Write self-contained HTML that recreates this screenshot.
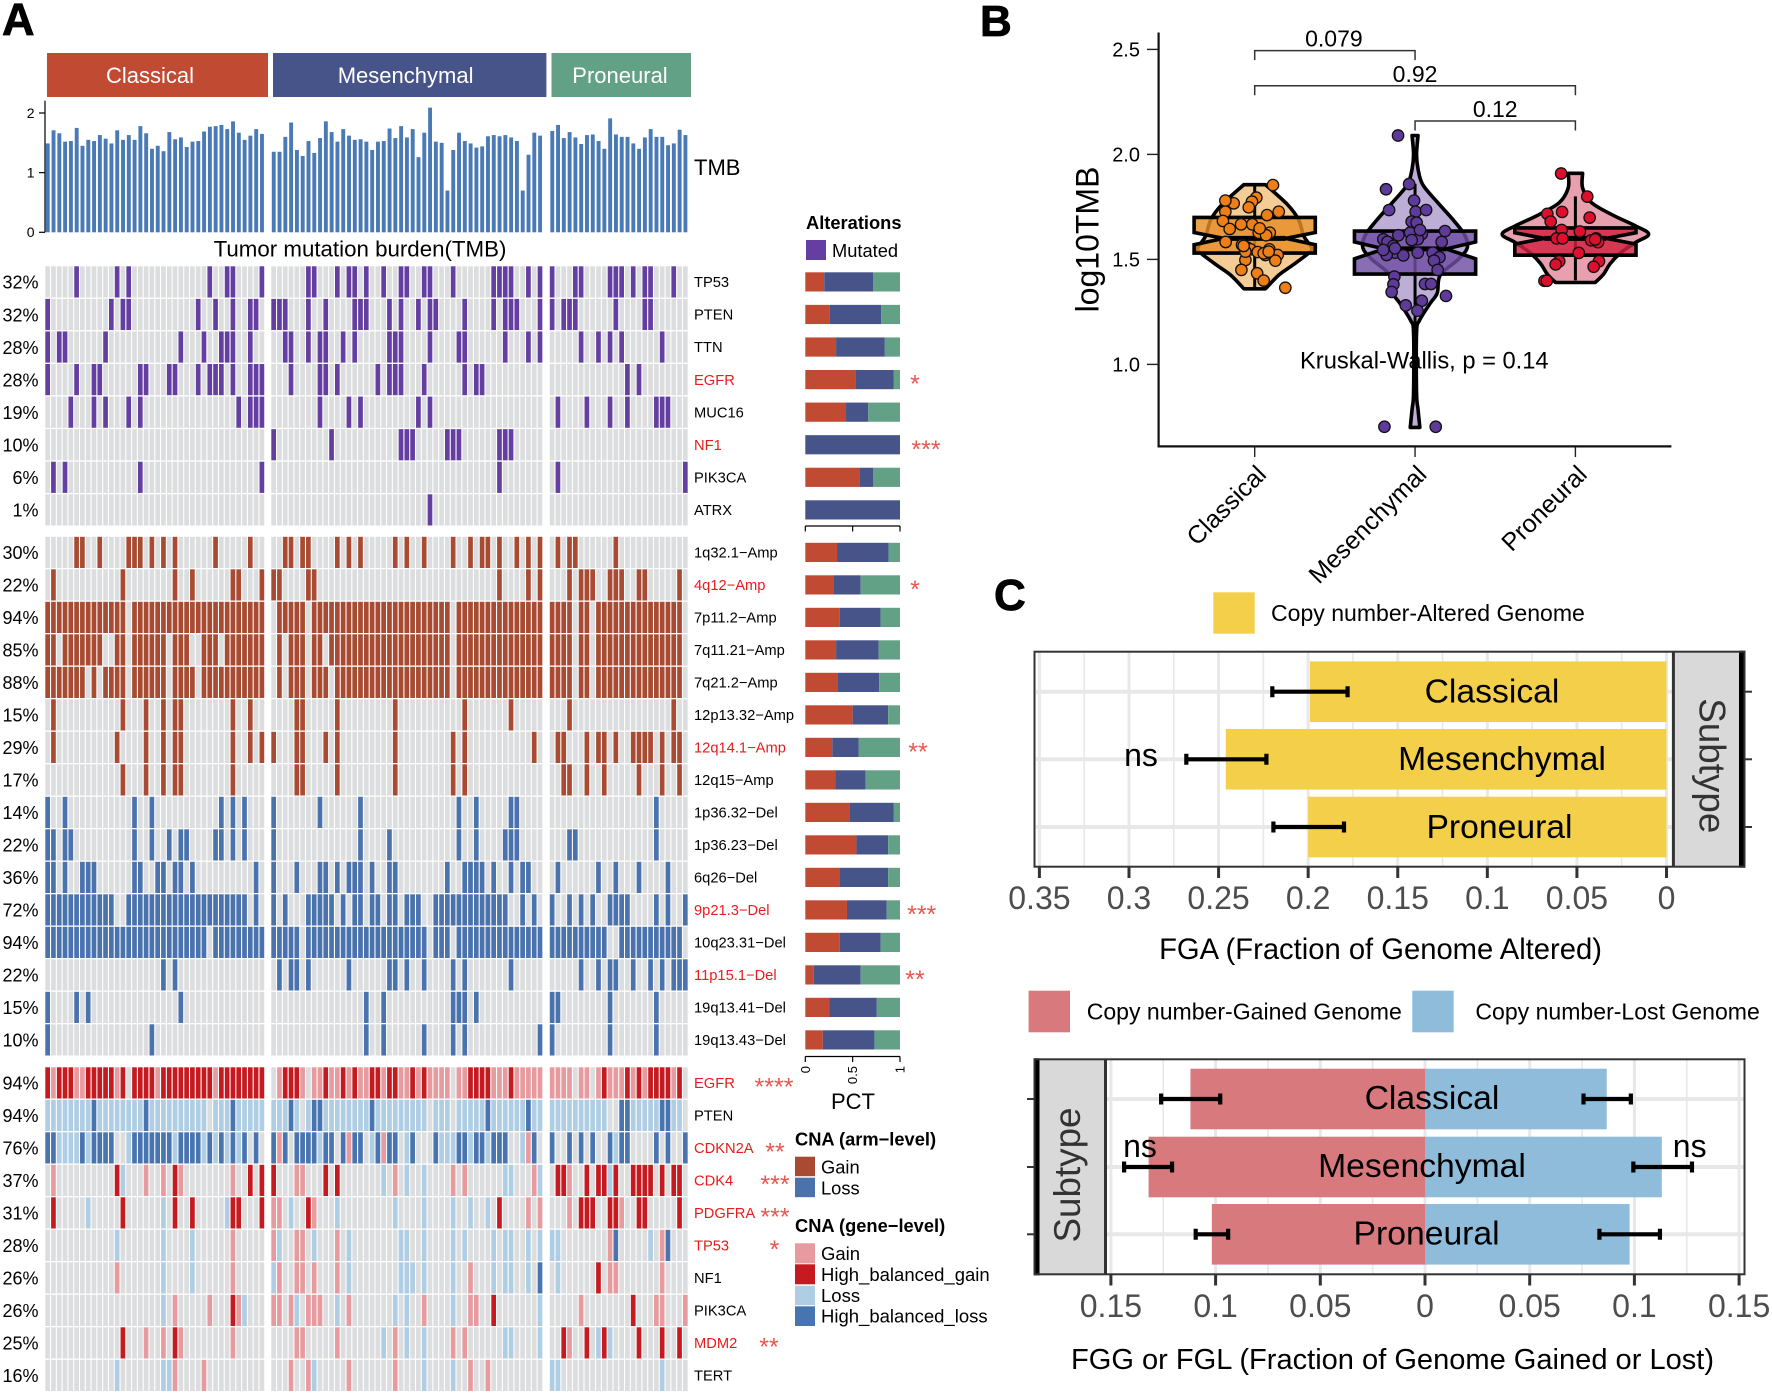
<!DOCTYPE html>
<html lang="en">
<head>
<meta charset="utf-8">
<title>Tumor mutation burden and copy number figure</title>
<style>
html,body{margin:0;padding:0;background:#fff;}
svg{display:block;font-family:"Liberation Sans",sans-serif;}
</style>
</head>
<body>
<svg id="figure" xmlns="http://www.w3.org/2000/svg" width="1772" height="1394" viewBox="0 0 1772 1394">
<rect x="0" y="0" width="1772" height="1394" fill="#fff"/>

<text x="2" y="35" font-size="45" font-weight="bold" stroke="#000" stroke-width="0.8">A</text>
<text x="980" y="36" font-size="44" font-weight="bold" stroke="#000" stroke-width="0.8">B</text>
<text x="994" y="610" font-size="44" font-weight="bold" stroke="#000" stroke-width="0.8">C</text>

<rect x="47" y="53" width="221" height="44" fill="#c04a32"/>
<rect x="273" y="53" width="273.4" height="44" fill="#47548a"/>
<rect x="551.5" y="53" width="139.5" height="44" fill="#62a185"/>
<text x="150" y="83" font-size="22" fill="#fff" text-anchor="middle">Classical</text>
<text x="405.6" y="83" font-size="22" fill="#fff" text-anchor="middle">Mesenchymal</text>
<text x="620" y="83" font-size="22" fill="#fff" text-anchor="middle">Proneural</text>

<g id="tmb"></g>
<text x="694" y="175" font-size="22">TMB</text>
<text x="360" y="256.5" font-size="22.3" text-anchor="middle">Tumor mutation burden(TMB)</text>

<g id="heatmap"></g>
<g id="stacks"></g>

<text x="806" y="229" font-size="18.3" font-weight="bold">Alterations</text>
<rect x="806" y="240" width="20" height="20" fill="#643ea0"/>
<text x="832" y="257" font-size="18.3">Mutated</text>

<g font-size="25" fill="#e8584f" text-anchor="middle">
<text x="915" y="392.6">*</text>
<text x="926" y="457.8">***</text>
<text x="915" y="597.9">*</text>
<text x="918" y="760.4">**</text>
<text x="921.7" y="922.9">***</text>
<text x="915" y="987.9">**</text>
<text x="774" y="1095.4">****</text>
<text x="775" y="1160.4">**</text>
<text x="775" y="1192.9">***</text>
<text x="775" y="1225.4">***</text>
<text x="774.5" y="1257.9">*</text>
<text x="769" y="1355.4">**</text>
</g>

<text x="853" y="1109" font-size="22" text-anchor="middle">PCT</text>
<text x="795" y="1145.5" font-size="18.3" font-weight="bold">CNA (arm−level)</text>
<rect x="795" y="1156.7" width="20" height="19.5" fill="#a84b32"/>
<rect x="795" y="1177.7" width="20" height="19.5" fill="#4a72ad"/>
<text x="821" y="1173.5" font-size="18.3">Gain</text>
<text x="821" y="1194.5" font-size="18.3">Loss</text>
<text x="795" y="1232" font-size="18.3" font-weight="bold">CNA (gene−level)</text>
<rect x="795" y="1243.3" width="20" height="20" fill="#e79b9f"/>
<rect x="795" y="1264.3" width="20" height="20" fill="#c41a20"/>
<rect x="795" y="1285.7" width="20" height="19.5" fill="#afcde3"/>
<rect x="795" y="1306.3" width="20" height="19.7" fill="#4874b0"/>
<text x="821" y="1260.2" font-size="18.5">Gain</text>
<text x="821" y="1281" font-size="18.5">High_balanced_gain</text>
<text x="821" y="1302" font-size="18.5">Loss</text>
<text x="821" y="1322.7" font-size="18.5">High_balanced_loss</text>

<g id="violin"></g>
<text transform="translate(1098.5,239.5) rotate(-90)" font-size="32" text-anchor="middle">log10TMB</text>
<text x="1300" y="368.5" font-size="23.7">Kruskal-Wallis, p = 0.14</text>

<rect x="1213.3" y="592.3" width="41.4" height="41.4" fill="#f4d04a"/>
<text x="1271" y="621" font-size="23.05">Copy number-Altered Genome</text>
<g id="fga"></g>
<text x="1380.5" y="959" font-size="29.2" text-anchor="middle">FGA (Fraction of Genome Altered)</text>

<rect x="1028.6" y="990.7" width="41.4" height="41.6" fill="#d8797d"/>
<text x="1086.7" y="1019.7" font-size="23.05">Copy number-Gained Genome</text>
<rect x="1412.3" y="990.7" width="41.4" height="41.6" fill="#8fbcdb"/>
<text x="1475.4" y="1019.7" font-size="23.05">Copy number-Lost Genome</text>
<g id="fgg"></g>
<text x="1392.5" y="1369" font-size="29.05" text-anchor="middle">FGG or FGL (Fraction of Genome Gained or Lost)</text>
</svg>

<script>
/* ---------- TMB bars ---------- */
const tmbClassical = [1.49,1.71,1.66,1.52,1.53,1.75,1.45,1.55,1.53,1.63,1.57,1.49,1.71,1.55,1.63,1.55,1.78,1.66,1.40,1.45,1.36,1.68,1.56,1.59,1.43,1.52,1.53,1.69,1.77,1.78,1.80,1.73,1.86,1.67,1.55,1.62,1.73,1.65];
const tmbMesenchymal = [1.35,1.35,1.60,1.84,1.38,1.28,1.53,1.33,1.58,1.86,1.68,1.52,1.73,1.62,1.55,1.56,1.52,1.38,1.52,1.53,1.74,1.58,1.78,1.59,1.73,1.26,1.67,2.09,1.52,1.50,0.70,1.38,1.67,1.53,1.49,1.42,1.44,1.61,1.63,1.61,1.63,1.59,1.53,0.70,1.30,1.67,1.62];
const tmbProneural = [1.70,1.80,1.58,1.68,1.59,1.48,1.63,1.64,1.53,1.40,1.91,1.64,1.60,1.60,1.49,1.40,1.59,1.73,1.60,1.60,1.46,1.49,1.72,1.63];
const tmbTicks = [0,1,2];

/* ---------- Oncoprint rows: each row lists [classical, mesenchymal, proneural] cells ---------- */
const mutationGenes = ['TP53','PTEN','TTN','EGFR','MUC16','NF1','PIK3CA','ATRX'];
const mutationPercents = [32,32,28,28,19,10,6,1];
const mutationRed = ['EGFR','NF1'];
const mutationCells = [
 [[5,12,14,28,31,32,37],[6,7,11,13,14,16,19,22,23,26,27,31,38,39,40,41,44,46],[0,4,5,10,11,12,14,16,17,21]],
 [[0,11,13,14,26,29,32,35,36],[0,1,2,6,9,14,15,16,20,22,25,27,28,33,38,40,41,42,46],[0,2,3,4,11,16,17]],
 [[0,2,3,10,23,27,30,31,32,35],[2,3,6,8,9,12,14,20,21,22,27,32,33,40,44,46],[5,8,10,12,19]],
 [[0,5,8,9,16,17,21,22,26,28,29,30,32,35,36,37],[3,8,9,11,18,20,21,22,26,33,35,36],[13,15]],
 [[4,8,10,14,16,33,35,36,37],[8,13,15,25,27],[1,6,10,13,18,19,20]],
 [[],[0,10,22,23,24,30,31,32,39,40,41],[]],
 [[1,3,16,37],[39],[1,23]],
 [[],[27],[]]
];
const armRegions = ['1q32.1−Amp','4q12−Amp','7p11.2−Amp','7q11.21−Amp','7q21.2−Amp','12p13.32−Amp','12q14.1−Amp','12q15−Amp','1p36.32−Del','1p36.23−Del','6q26−Del','9p21.3−Del','10q23.31−Del','11p15.1−Del','19q13.41−Del','19q13.43−Del'];
const armPercents = [30,22,94,85,88,15,29,17,14,22,36,72,94,22,15,10];
const armRed = ['4q12−Amp','12q14.1−Amp','9p21.3−Del','11p15.1−Del'];
const armCells = [
 [[5,6,9,14,15,16,18,20,22,29,35],[2,3,5,6,11,13,15,21,23,26,31,34,36,37,39,42,44,46],[1,3,4,11]],
 [[1,13,22,25,32,33,37],[0,1,6,7,39,44,46],[3,5,6,7,10,11,12,15,16,22]],
 [{off:[14]},{off:[0,6,31]},{off:[4,7,23]}],
 [{off:[2,10,11,14,21,25,26,30]},{off:[0,2,6,9,31]},{off:[4,7,23]}],
 [{off:[7,9,14,21,26]},{off:[0,2,6,10,31]},{off:[4,7,23]}],
 [[1,13,17,20,22,23,32,35],[4,5,11,21,33,41],[3,21]],
 [[1,12,17,20,22,23,32,35,37],[0,4,5,9,11,21,31,33,45],[1,2,6,8,9,11,14,15,16,17,19,21,22]],
 [[13,17,20,22,23,32],[4,5,11,21,31,33],[2,3,6,9,15,19,22]],
 [[0,3,15,18,30,32,34],[0,8,15,32,35,41,42],[18]],
 [[0,1,3,4,15,18,21,23,24,29,30,32,34],[0,15,20,32,35,40,41,42],[3,4,18]],
 [[0,1,3,6,7,8,15,16,19,20,22,23,25,36],[0,4,8,9,11,13,14,15,17,20,21,30,33,34,35,36,38,41,43,44],[1,8,11,15,20]],
 [{off:[12,13,35,37]},[0,2,6,7,8,9,10,12,14,15,17,18,20,21,23,24,25,28,29,30,31,32,33,34,35,36,37,38,39,40,43,45],[0,3,5,7,10,11,12,13,18,20,23]],
 [{off:[28]},{off:[5,27,31]},{off:[10,11,23]}],
 [[20,22],[1,3,4,6,13,20,21,23,26,31,33,41],[5,8,10,11,14,17,19,21,22,23]],
 [[0,5,7,23],[16,19,31,32,33,35],[0,1,10,18]],
 [[0,18],[16,19,26,31,33,46],[0,10,18]]
];
const geneNames = ['EGFR','PTEN','CDKN2A','CDK4','PDGFRA','TP53','NF1','PIK3CA','MDM2','TERT'];
const genePercents = [94,94,76,37,31,28,26,26,25,16];
const geneRed = ['EGFR','CDKN2A','CDK4','PDGFRA','TP53','MDM2'];
const geneCells = [
 ['HgHHHggHHHHHgH.HHHHgHHHHHHHHHgHHHHHHHH','.gHHHg.ggHggHgHggHHgHHggHgHgggg.ggHHHHgggHggggg','gggg.gg.gHgggHgHgHHHHgH.'],
 ['llllllllBllllllllBllllllllll.lllBlllll','lllBl.lBBllllllllBlllllllll.lll.lllllBllllllBll','llllllllll..BBlllllBBll.'],
 ['BBllllBlBBBB..lBBBBBBBlBBBBlBlBlBlB.B.','BgB.BBBBlBB.BgBB.lBgBB.lB...BlllBBlBBlBBB..lgB.','B..B.B.B..BlBB....B.B..B'],
 [{g:[1,17,20,23,32],H:[12,22,35,37],l:[13]},{g:[4,5,21,31,33,45],H:[0,9,11],l:[19,23,26,40,41,46]},{g:[3],H:[1,2,6,8,9,11,14,15,16,17,19,21,22],l:[10]}],
 [{H:[1,13,22,25,32,33,37],l:[7,20,31]},{g:[0,1,7,44,46],H:[6,39],l:[3,11,21,26,31,34,37]},{g:[3,12],H:[5,6,7,10,11,15,16,22]}],
 [{g:[32],l:[12,20,25]},{g:[0,4,5,11],l:[1,7,13,22,23,26,31,33,38,40,41,44,46]},{g:[10,19],l:[0,1,17],B:[11,20]}],
 [{g:[12,32],l:[20,25]},{g:[1,4,5,7,11,34],l:[0,13,22,23,24,26,31,38,40,41,44],B:[46]},{g:[10,11,19],H:[8],l:[1]}],
 [{g:[22,28,33],H:[32],l:[20,34]},{g:[0,1,3,6,7,8,13,26,34,35],H:[38],l:[4,11,21,23,31,46]},{g:[5,18,19,23],H:[14]}],
 [{g:[17,20,23,32],H:[13,22]},{g:[4,5,11,21,31,33],l:[19,23,26,40,41,46]},{g:[3],H:[2,6,9,15,19,22],l:[8,10]}],
 [{g:[22,27],l:[12,20,21]},{g:[3,6,13,21,34,37],l:[7,26,31]},{l:[0,1,19]}]
];

/* ---------- Share of each subtype per row (mutation rows then arm rows) ---------- */
const shareClassical = [.20,.26,.325,.535,.43,0,.57,0,.335,.295,.365,.325,.345,.50,.285,.315,.465,.54,.36,.44,.365,.09,.255,.185];
const shareMesenchymal = [.515,.54,.515,.40,.235,1,.145,1,.545,.29,.43,.45,.435,.375,.28,.32,.47,.335,.515,.42,.43,.495,.50,.545];
const shareProneural = [.285,.20,.16,.065,.335,0,.285,0,.12,.415,.205,.225,.22,.125,.435,.365,.065,.125,.125,.14,.205,.415,.245,.27];
const shareTicks = [0,0.5,1];

/* ---------- Violin chart ---------- */
const subtypes = ['Classical','Mesenchymal','Proneural'];
const log10Ticks = ['1.0','1.5','2.0','2.5'];
const densityLevels = [
 [1.856,1.76,1.69,1.61,1.555,1.53,1.47,1.425,1.36],
 [2.09,2.0,1.93,1.855,1.77,1.69,1.615,1.555,1.5,1.425,1.34,1.29,1.21,1.15,.865,.785,.7],
 [1.91,1.84,1.77,1.71,1.66,1.62,1.58,1.53,1.48,1.43,1.39]
];
const densityValues = [
 [.18,.55,.73,.82,.95,.9,.62,.4,.18],
 [.05,.025,.05,.13,.38,.63,.83,.87,.72,.42,.37,.25,.075,.025,.025,.05,.08],
 [.12,.12,.27,.63,1.0,1.22,1.0,.75,.58,.47,.33]
];
const boxQ3 = [1.70,1.635,1.65];
const boxQ1 = [1.53,1.43,1.52];
const boxMedian = [1.60,1.55,1.60];
const notchHigh = [1.628,1.583,1.627];
const notchLow = [1.57,1.503,1.573];
const whiskerHigh = [1.856,1.86,1.80];
const whiskerLow = [1.36,1.15,1.40];
const classicalTmb = [1.854,1.767,1.780,1.794,1.775,1.748,1.727,1.727,1.711,1.683,1.667,1.667,1.645,1.627,1.627,1.615,1.583,1.569,1.557,1.548,1.535,1.548,1.521,1.521,1.494,1.497,1.450,1.434,1.399,1.365,1.537,1.532,1.648,1.564,1.529,1.537];
const classicalJitter = [.114,-.131,-.183,.010,-.017,-.037,-.183,.150,.077,-.198,-.085,-.015,-.156,.025,.094,.071,-.181,-.079,-.048,-.027,.019,.091,.067,.143,.129,-.058,-.083,.015,.056,.191,-.058,.077,.031,-.069,.056,.087];
const mesenchymalTmb = [2.09,1.834,1.859,1.780,1.735,1.727,1.735,1.680,1.675,1.635,1.615,1.627,1.621,1.596,1.596,1.584,1.583,1.564,1.592,1.532,1.532,1.519,1.532,1.532,1.510,1.494,1.450,1.418,1.381,1.345,1.383,1.383,1.326,1.281,1.303,1.256,.703,.703,1.640,1.521,1.545,1.553];
const mesenchymalJitter = [-.106,-.181,-.037,-.006,-.162,.004,.069,-.021,.010,.187,-.104,-.031,.042,.017,-.198,-.172,.166,-.135,-.021,-.181,-.125,-.073,.017,.110,.152,.118,.141,-.129,-.135,-.146,.062,.100,.193,-.058,.042,.015,-.191,.129,.031,-.177,-.198,-.125];
const proneuralTmb = [1.909,1.799,1.717,1.726,1.699,1.680,1.640,1.633,1.600,1.600,1.591,1.600,1.582,1.531,1.491,1.476,1.491,1.465,1.398,1.398,1.595];
const proneuralJitter = [-.089,.074,-.175,-.083,.089,-.154,-.086,.028,-.117,-.080,.098,.129,.141,.021,-.101,-.123,.147,.114,-.193,-.178,.123];

/* ---------- Genome fraction charts ---------- */
const fgaValues = [.199,.246,.20];
const fgaErrLow = [.178,.2233,.18];
const fgaErrHigh = [.22,.268,.2194];
const fgaTicks = ['0.35','0.3','0.25','0.2','0.15','0.1','0.05','0'];
const fggValues = [.112,.132,.1018];
const fglValues = [.0868,.1131,.0977];
const fggErrLow = [.0978,.1208,.094];
const fggErrHigh = [.126,.1437,.1095];
const fglErrLow = [.0757,.0995,.0833];
const fglErrHigh = [.0983,.1275,.1122];
const fggTicks = ['0.15','0.1','0.05','0'];
const fglTicks = ['0','0.05','0.1','0.15'];

/* ---------- Helpers and axis functions ---------- */
const NS = 'http://www.w3.org/2000/svg';
function mk(tag, attrs, parent){
  const e = document.createElementNS(NS, tag);
  for (const k in attrs) e.setAttribute(k, attrs[k]);
  parent.appendChild(e);
  return e;
}
function label(parent, x, cy, str, size, anchor, fill){
  const t = mk('text', {x:x, y:cy + size * 0.35, 'font-size':size, 'text-anchor':anchor || 'start', fill:fill || '#000'}, parent);
  t.textContent = str;
  return t;
}
const slug = s => s.toLowerCase().replace(/[^a-z0-9]+/g, '-');

const blockStarts = [45, 271, 549.5];
const cellPitch = 5.79;
const cellX = (block, i) => blockStarts[block] + i * cellPitch;
const tmbY = v => 232.3 - v * 59.65;
const mutationCenter = i => 281.9 + 32.57 * i;
const armCenter = i => 552.4 + 32.5 * i;
const geneCenter = i => 1082.9 + 32.5 * i;
const shareX = v => 805.3 + v * 94.7;
const violinX = i => 1254.7 + i * 160.35;
const violinY = v => 364.4 - (v - 1) * 210;
const fgaX = v => 1666.5 - v * 1791.7;
const fggX = v => 1425 - v * 2094;
const fglX = v => 1425 + v * 2094;

/* ---------- TMB ---------- */
const tmbG = document.getElementById('tmb');
[tmbClassical, tmbMesenchymal, tmbProneural].forEach((series, b) => {
  series.forEach((v, i) => {
    const r = mk('rect', {x:cellX(b,i)+0.8, y:tmbY(v), width:3.9, height:tmbY(0)-tmbY(v), fill:'#4a7ab5'}, tmbG);
    
    
  });
});
const tmbAxis = mk('line', {x1:45, x2:45, y1:100.7, y2:tmbY(0), stroke:'#000', 'stroke-width':1.2}, tmbG);


tmbTicks.forEach(v => {
  const tk = mk('line', {x1:39, x2:45, y1:tmbY(v), y2:tmbY(v), stroke:'#000', 'stroke-width':1.2}, tmbG);
  
  
  const t = label(tmbG, 34.5, tmbY(v), String(v), 14, 'end');
  
  
});

/* ---------- Heatmap ---------- */
const hm = document.getElementById('heatmap');
function cellState(entry, i){
  if (typeof entry === 'string') return entry[i];
  if (Array.isArray(entry)) return entry.includes(i) ? 'x' : '.';
  if (entry.off) return entry.off.includes(i) ? '.' : 'x';
  for (const k in entry) if (entry[k].includes(i)) return k;
  return '.';
}
const blockSizes = [tmbClassical.length, tmbMesenchymal.length, tmbProneural.length];
function drawRows(names, percents, reds, cells, center, palette, prefix){
  names.forEach((name, r) => {
    const cy = center(r);
    blockSizes.forEach((n, b) => {
      for (let i = 0; i < n; i++) {
        const state = cellState(cells[r][b], i);
        const c = mk('rect', {x:cellX(b,i)+0.3, y:cy-15.6, width:4.7, height:31.2, fill:state === '.' ? '#dcddde' : palette[state] || palette.x}, hm);
        
        
      }
    });
    const p = label(hm, 38.5, cy + 0.5, percents[r] + '%', 18, 'end');
    
    
    const t = label(hm, 694, cy, name, 14.7, 'start', reds.includes(name) ? '#e81c1c' : '#000');
    
    
  });
}
drawRows(mutationGenes, mutationPercents, mutationRed, mutationCells, mutationCenter, {x:'#643ea0'}, 'mutation');
const armPalette = r => r < 8 ? {x:'#a84b32'} : {x:'#4a72ad'};
armRegions.forEach((name, r) => {
  drawRows([name], [armPercents[r]], armRed, [armCells[r]], () => armCenter(r), armPalette(r), 'arm');
});
drawRows(geneNames, genePercents, geneRed, geneCells, geneCenter, {g:'#e79b9f', H:'#c41a20', l:'#afcde3', B:'#4874b0'}, 'gene');

/* ---------- Subtype share bars ---------- */
const stacks = document.getElementById('stacks');
const shareCenters = mutationGenes.map((_, i) => mutationCenter(i)).concat(armRegions.map((_, i) => armCenter(i)));
shareCenters.forEach((cy, r) => {
  let cum = 0;
  [[shareClassical,'#c04a32','classical'],[shareMesenchymal,'#47548a','mesenchymal'],[shareProneural,'#62a185','proneural']].forEach(s => {
    const v = s[0][r];
    const seg = mk('rect', {x:shareX(cum), y:cy-9.6, width:shareX(cum+v)-shareX(cum), height:19.2, fill:s[1]}, stacks);
    
    
    cum += v;
  });
});
function shareAxis(y, name){
  const a = mk('line', {x1:shareX(0), x2:shareX(1), y1:y, y2:y, stroke:'#000', 'stroke-width':1.2}, stacks);
  
  
  shareTicks.forEach(v => {
    const tk = mk('line', {x1:shareX(v), x2:shareX(v), y1:y, y2:y+5.5, stroke:'#000', 'stroke-width':1.2}, stacks);
    
    
  });
}
shareAxis(526, 'share-top-axis');
shareAxis(1056.5, 'share-bottom-axis');
shareTicks.forEach(v => {
  const t = mk('text', {transform:'translate(' + (shareX(v)+4.5) + ',1066) rotate(-90)', 'font-size':13, 'text-anchor':'end'}, stacks);
  t.textContent = String(v);
  
  
});

/* ---------- Violin chart ---------- */
const vg = document.getElementById('violin');
const violinFill = ['#f4cd96','#bcaed7','#e8a0ae'];
const boxFill = ['#e68e24','#6f4ea3','#d3203f'];
const pointFill = ['#ee7f16','#5e3b9b','#dd0f2d'];
const pointValues = [classicalTmb, mesenchymalTmb, proneuralTmb];
const pointJitter = [classicalJitter, mesenchymalJitter, proneuralJitter];
function smoothSide(pts){
  let d = '';
  for (let i = 0; i < pts.length - 1; i++) {
    const p0 = pts[Math.max(i-1,0)], p1 = pts[i], p2 = pts[i+1], p3 = pts[Math.min(i+2,pts.length-1)];
    d += ' C' + (p1[0]+(p2[0]-p0[0])/6) + ' ' + (p1[1]+(p2[1]-p0[1])/6) + ' ' + (p2[0]-(p3[0]-p1[0])/6) + ' ' + (p2[1]-(p3[1]-p1[1])/6) + ' ' + p2[0] + ' ' + p2[1];
  }
  return d;
}
subtypes.forEach((name, g) => {
  const cx = violinX(g);
  const right = densityLevels[g].map((v, i) => [cx + densityValues[g][i] * 60, violinY(v)]);
  const left = densityLevels[g].map((v, i) => [cx - densityValues[g][i] * 60, violinY(v)]).reverse();
  const d = 'M' + right[0][0] + ' ' + right[0][1] + smoothSide(right) + ' L' + left[0][0] + ' ' + left[0][1] + smoothSide(left) + ' Z';
  const vio = mk('path', {d:d, fill:violinFill[g], stroke:'#000', 'stroke-width':3.6, 'stroke-linejoin':'round'}, vg);
  
  

  const wh = mk('line', {x1:cx, x2:cx, y1:violinY(whiskerHigh[g]), y2:violinY(whiskerLow[g]), stroke:'#000', 'stroke-width':3}, vg);
  
  

  const w = 60.6, nw = 31;
  const yQ3 = violinY(boxQ3[g]), yQ1 = violinY(boxQ1[g]), yM = violinY(boxMedian[g]), yH = violinY(notchHigh[g]), yL = violinY(notchLow[g]);
  const bd = 'M' + (cx-w) + ' ' + yQ3 + ' L' + (cx+w) + ' ' + yQ3 + ' L' + (cx+w) + ' ' + yH + ' L' + (cx+nw) + ' ' + yM + ' L' + (cx+w) + ' ' + yL + ' L' + (cx+w) + ' ' + yQ1 + ' L' + (cx-w) + ' ' + yQ1 + ' L' + (cx-w) + ' ' + yL + ' L' + (cx-nw) + ' ' + yM + ' L' + (cx-w) + ' ' + yH + ' Z';
  const box = mk('path', {d:bd, fill:boxFill[g], 'fill-opacity':.82, stroke:'#000', 'stroke-width':3.6, 'stroke-linejoin':'miter'}, vg);
  
  
  const med = mk('line', {x1:cx-nw, x2:cx+nw, y1:yM, y2:yM, stroke:'#000', 'stroke-width':5}, vg);
  
  

  pointValues[g].forEach((v, i) => {
    const c = mk('circle', {cx:cx + pointJitter[g][i] * 160.35, cy:violinY(v), r:5.7, fill:pointFill[g], stroke:'#111', 'stroke-width':1.3}, vg);
    
    
  });

  const tick = mk('line', {x1:cx, x2:cx, y1:446, y2:457, stroke:'#222', 'stroke-width':1.4}, vg);
  
  
  const t = mk('text', {transform:'translate(' + (cx+13) + ',476) rotate(-45)', 'font-size':25, 'text-anchor':'end'}, vg);
  t.textContent = name;
  
  
});
const vAxisY = mk('line', {x1:1158.6, x2:1158.6, y1:32.5, y2:447.5, stroke:'#111', 'stroke-width':2.2}, vg);


const vAxisX = mk('line', {x1:1157.5, x2:1671.4, y1:446.4, y2:446.4, stroke:'#111', 'stroke-width':2.2}, vg);


log10Ticks.forEach(s => {
  const y = violinY(parseFloat(s));
  const tk = mk('line', {x1:1147, x2:1158.6, y1:y, y2:y, stroke:'#222', 'stroke-width':1.4}, vg);
  
  
  const t = label(vg, 1140, y, s, 20, 'end');
  
  
});
const comparePairs = [[0,1],[0,2],[1,2]];
const compareLabels = ['0.079','0.92','0.12'];
const compareHeights = [2.4942,2.3267,2.159];
comparePairs.forEach((pair, i) => {
  const y = violinY(compareHeights[i]);
  const d = 'M' + violinX(pair[0]) + ' ' + (y+9.5) + ' V' + y + ' H' + violinX(pair[1]) + ' V' + (y+9.5);
  const br = mk('path', {d:d, fill:'none', stroke:'#333', 'stroke-width':1.5}, vg);
  
  
  const t = label(vg, (violinX(pair[0]) + violinX(pair[1])) / 2 - (i === 0 ? 1 : 0), y - 12, compareLabels[i], 23, 'middle');
  
  
});

/* ---------- FGA chart ---------- */
const fg = document.getElementById('fga');
function gridLine(parent, x1, y1, x2, y2, w){
  const l = mk('line', {x1:x1, y1:y1, x2:x2, y2:y2, stroke:'#e8e8e8', 'stroke-width':w}, parent);
  
  
}
function errorBar(parent, x1, x2, y, name){
  const d = 'M' + x1 + ' ' + y + ' H' + x2 + ' M' + x1 + ' ' + (y-5.5) + ' V' + (y+5.5) + ' M' + x2 + ' ' + (y-5.5) + ' V' + (y+5.5);
  const e = mk('path', {d:d, fill:'none', stroke:'#000', 'stroke-width':4.2}, parent);
  
  
}
const fgaCenters = [691.7,759.3,827];
const fgaLabelX = [1492,1502,1499.5];
fgaTicks.forEach(s => {
  const x = fgaX(parseFloat(s));
  gridLine(fg, x, 652, x, 866, 3);
  if (parseFloat(s) > 0) gridLine(fg, fgaX(parseFloat(s) - 0.025), 652, fgaX(parseFloat(s) - 0.025), 866, 1.6);
});
fgaCenters.forEach(y => gridLine(fg, 1036, y, 1673, y, 4));
subtypes.forEach((name, i) => {
  const y = fgaCenters[i];
  const b = mk('rect', {x:fgaX(fgaValues[i]), y:y-30.3, width:fgaX(0)-fgaX(fgaValues[i]), height:60.6, fill:'#f4d04a'}, fg);
  
  
  errorBar(fg, fgaX(fgaErrHigh[i]), fgaX(fgaErrLow[i]), y, 'fga-error-bar');
  const t = label(fg, fgaLabelX[i], y - 1, name, 33.7, 'middle');
  
  
  const tk = mk('line', {x1:1745, x2:1752, y1:y, y2:y, stroke:'#333', 'stroke-width':2}, fg);
  
  
});
const fgaNs = label(fg, 1141, 755, 'ns', 32, 'middle');


const fgaStrip = mk('rect', {x:1673.4, y:651.7, width:66, height:215, fill:'#d9d9d9'}, fg);


const fgaBlack = mk('rect', {x:1739, y:650.7, width:6, height:217, fill:'#000'}, fg);


const fgaFrame = mk('rect', {x:1034.5, y:651.7, width:710, height:215, fill:'none', stroke:'#333', 'stroke-width':2}, fg);


const fgaDiv = mk('line', {x1:1673.4, x2:1673.4, y1:651.7, y2:866.7, stroke:'#333', 'stroke-width':3}, fg);


const fgaStripText = mk('text', {transform:'translate(1699.5,765.8) rotate(90)', 'font-size':36.8, 'text-anchor':'middle', fill:'#333'}, fg);
fgaStripText.textContent = 'Subtype';


fgaTicks.forEach(s => {
  const x = fgaX(parseFloat(s));
  const tk = mk('line', {x1:x, x2:x, y1:866.7, y2:878, stroke:'#333', 'stroke-width':3}, fg);
  
  
  const t = label(fg, x, 898, s, 32, 'middle', '#4d4d4d');
  
  
});

/* ---------- FGG / FGL chart ---------- */
const gg = document.getElementById('fgg');
const fggCenters = [1099,1167,1234.3];
const fggLabelX = [1432,1422,1426.6];
fggTicks.forEach(s => {
  const v = parseFloat(s);
  gridLine(gg, fggX(v), 1060, fggX(v), 1274, 3);
  gridLine(gg, fglX(v), 1060, fglX(v), 1274, 3);
  if (v > 0) {
    gridLine(gg, fggX(v - 0.025), 1060, fggX(v - 0.025), 1274, 1.6);
    gridLine(gg, fglX(v - 0.025), 1060, fglX(v - 0.025), 1274, 1.6);
  }
});
fggCenters.forEach(y => gridLine(gg, 1106, y, 1745, y, 4));
subtypes.forEach((name, i) => {
  const y = fggCenters[i];
  const a = mk('rect', {x:fggX(fggValues[i]), y:y-30.3, width:fggX(0)-fggX(fggValues[i]), height:60.6, fill:'#d8797d'}, gg);
  
  
  const b = mk('rect', {x:fglX(0), y:y-30.3, width:fglX(fglValues[i])-fglX(0), height:60.6, fill:'#8fbcdb'}, gg);
  
  
  errorBar(gg, fggX(fggErrHigh[i]), fggX(fggErrLow[i]), y, 'fgg-error-bar');
  errorBar(gg, fglX(fglErrLow[i]), fglX(fglErrHigh[i]), y, 'fgl-error-bar');
  const t = label(gg, fggLabelX[i], y - 1.8, name, 33.7, 'middle');
  
  
  const tk = mk('line', {x1:1027, x2:1034.5, y1:y, y2:y, stroke:'#333', 'stroke-width':2}, gg);
  
  
});
const nsLeft = label(gg, 1140, 1146, 'ns', 32, 'middle');


const nsRight = label(gg, 1689.7, 1146, 'ns', 32, 'middle');


const ggStrip = mk('rect', {x:1039, y:1059.3, width:66, height:215, fill:'#d9d9d9'}, gg);


const ggBlack = mk('rect', {x:1034, y:1058.3, width:5.5, height:217, fill:'#000'}, gg);


const ggFrame = mk('rect', {x:1034.5, y:1059.3, width:710, height:215, fill:'none', stroke:'#333', 'stroke-width':2}, gg);


const ggDiv = mk('line', {x1:1105.5, x2:1105.5, y1:1059.3, y2:1274.3, stroke:'#333', 'stroke-width':3}, gg);


const ggStripText = mk('text', {transform:'translate(1080,1175) rotate(-90)', 'font-size':36.8, 'text-anchor':'middle', fill:'#333'}, gg);
ggStripText.textContent = 'Subtype';


[[fggTicks, fggX],[fglTicks, fglX]].forEach(pair => {
  pair[0].forEach((s, i) => {
    const v = parseFloat(s);
    if (pair[0] === fglTicks && i === 0) return;
    const x = pair[1](v);
    const tk = mk('line', {x1:x, x2:x, y1:1274.3, y2:1285.5, stroke:'#333', 'stroke-width':3}, gg);
    
    
    const t = label(gg, x, 1305.7, s, 32, 'middle', '#4d4d4d');
    
    
  });
});
</script>
</body>
</html>
